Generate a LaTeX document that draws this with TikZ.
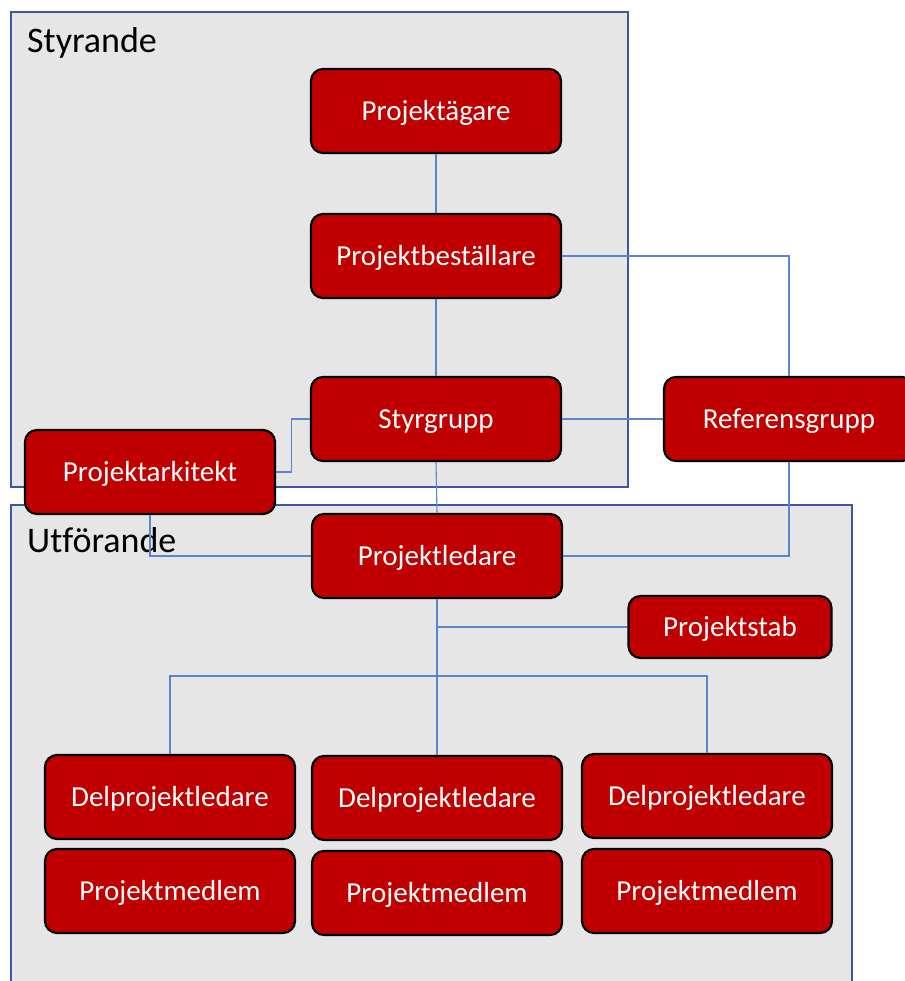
\documentclass[tikz,border=0pt]{standalone}
\usepackage{fontspec}
\setmainfont[Ligatures=NoCommon]{Carlito}
\usepackage{xcolor}
\definecolor{boxred}{HTML}{C00000}
\definecolor{grpfill}{HTML}{E6E6E6}
\definecolor{grpline}{HTML}{3A5A9C}
\definecolor{linkblue}{HTML}{5B84CC}

\begin{document}
\begin{tikzpicture}[x=1pt,y=-1pt]
	\tikzstyle{orgbox}=[draw=black, line width=2.2pt, fill=boxred, rounded corners=12pt, text=white, minimum width=250pt, minimum height=84pt, inner sep=0pt, text height=19pt, text depth=0pt, font=\fontsize{29}{34}\selectfont]
	\tikzstyle{stabbox}=[orgbox, minimum width=203pt, minimum height=62pt]
	\tikzstyle{group}=[draw=grpline, line width=1.8pt, fill=grpfill]
	\tikzstyle{grouplabel}=[anchor=west, inner sep=0pt, font=\fontsize{36}{40}\selectfont]
	\tikzstyle{link}=[draw=linkblue, line width=1.1pt]
	\useasboundingbox (0,0) rectangle (904,981);
	\draw [group] (11,12) rectangle (628,487);
	\node [grouplabel] (styrande) at (27,43) {Styrande};
	\draw [group] (11,505) rectangle (852,1000);
	\node [grouplabel] (utforande) at (27,540) {Utförande};
	\node [orgbox] (agare) at (436,111) {Projektägare};
	\node [orgbox] (bestallare) at (436,256) {Projektbeställare};
	\node [orgbox] (styrgrupp) at (436,419) {Styrgrupp};
	\node [orgbox] (referens) at (789,419) {Referensgrupp};
	\node [orgbox] (arkitekt) at (150,472) {Projektarkitekt};
	\node [orgbox] (ledare) at (437,556) {Projektledare};
	\node [stabbox] (stab) at (730,627) {Projektstab};
	\node [orgbox] (delA) at (170,797) {Delprojektledare};
	\node [orgbox] (delB) at (437,798) {Delprojektledare};
	\node [orgbox] (delC) at (707,796) {Delprojektledare};
	\node [orgbox] (medA) at (170,891) {Projektmedlem};
	\node [orgbox] (medB) at (437,893) {Projektmedlem};
	\node [orgbox] (medC) at (707,891) {Projektmedlem};
	\coordinate (bus) at (437,676);
	\draw [link] (agare.south) -- (bestallare.north);
	\draw [link] (bestallare.south) -- (styrgrupp.north);
	\draw [link] (bestallare.east) -| (referens.north);
	\draw [link] (styrgrupp.east) -- (referens.west);
	\draw [link] (styrgrupp.west) -- ++(-18,0) |- (arkitekt.east);
	\draw [link] (styrgrupp.south) -- (ledare.north);
	\draw [link] (arkitekt.south) |- (ledare.west);
	\draw [link] (referens.south) |- (ledare.east);
	\draw [link] (ledare.south) -- (bus);
	\draw [link] (ledare.south |- stab.west) -- (stab.west);
	\draw [link] (delA.north) |- (bus) -| (delC.north);
	\draw [link] (bus) -- (delB.north);
\end{tikzpicture}
\end{document}
